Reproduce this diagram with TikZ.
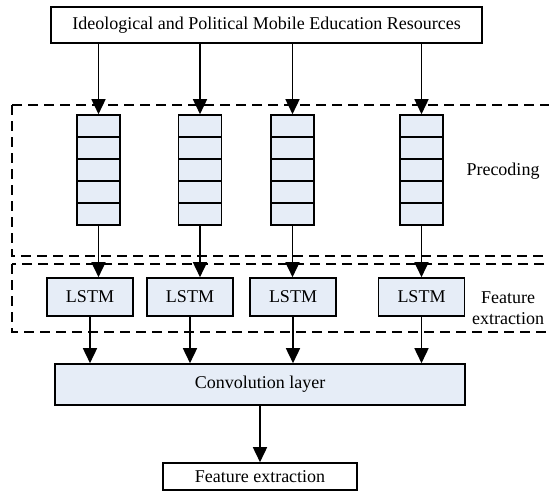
\documentclass[tikz,border=0pt]{standalone}
\usepackage{fontspec}
\setmainfont{Liberation Serif}
\usetikzlibrary{arrows.meta,positioning}
\definecolor{cellblue}{HTML}{E6EDF7}
\tikzset{
  plain/.style={draw=black,line width=1.6pt,fill=white,inner sep=0pt,
                font=\fontsize{18}{21}\selectfont},
  block/.style={draw=black,line width=1.6pt,fill=cellblue,inner sep=0pt,
                font=\fontsize{18}{21}\selectfont},
  cell/.style={draw=black,line width=1.6pt,fill=cellblue,inner sep=0pt,
               minimum width=43pt,minimum height=22pt},
  group/.style={draw=black,line width=1.4pt,dash pattern=on 10pt off 6pt},
  tag/.style={font=\fontsize{18}{21}\selectfont,align=center},
  arrow/.style={-{Triangle[length=15pt,width=14pt]},line width=1.6pt}
}
\begin{document}
\begin{tikzpicture}[x=1pt,y=-1pt]
\useasboundingbox (0,0) rectangle (549,491);
\clip (0,0) rectangle (549,491);
% dashed groups
\draw[group] (12,105) rectangle (570,256);
\draw[group] (12,264) rectangle (570,332);
\node[tag] (pre) at (503,171) {Precoding};
\node[tag] (fea) at (508,308) {Feature\\extraction};
% source
\node[plain,minimum width=431pt,minimum height=36pt] (res) at (266.5,25)
  {Ideological and Political Mobile Education Resources};
% precoding stacks
\foreach \i/\x in {1/98.5,2/200,3/292.5,4/421.5}{
  \foreach \j in {1,...,5}
    \node[cell] (c\i-\j) at (\x,104+22*\j) {};
  \draw[arrow] (res.south -| c\i-1) -- (c\i-1.north);
}
% LSTM row
\foreach \i/\x in {1/90,2/190,3/293,4/421.5}
  \node[block,minimum width=86pt,minimum height=38pt] (l\i) at (\x,297) {LSTM};
\node[block,minimum width=410pt,minimum height=41pt] (conv) at (260,384.5) {Convolution layer};
\node[plain,minimum width=194pt,minimum height=27pt] (out) at (260,476.5) {Feature extraction};
\foreach \i in {1,...,4}{
  \draw[arrow] (c\i-5.south) -- (c\i-5.south |- l\i.north);
  \draw[arrow] (l\i.south) -- (l\i.south |- conv.north);
}
\draw[arrow] (conv) -- (out);
\end{tikzpicture}
\end{document}
